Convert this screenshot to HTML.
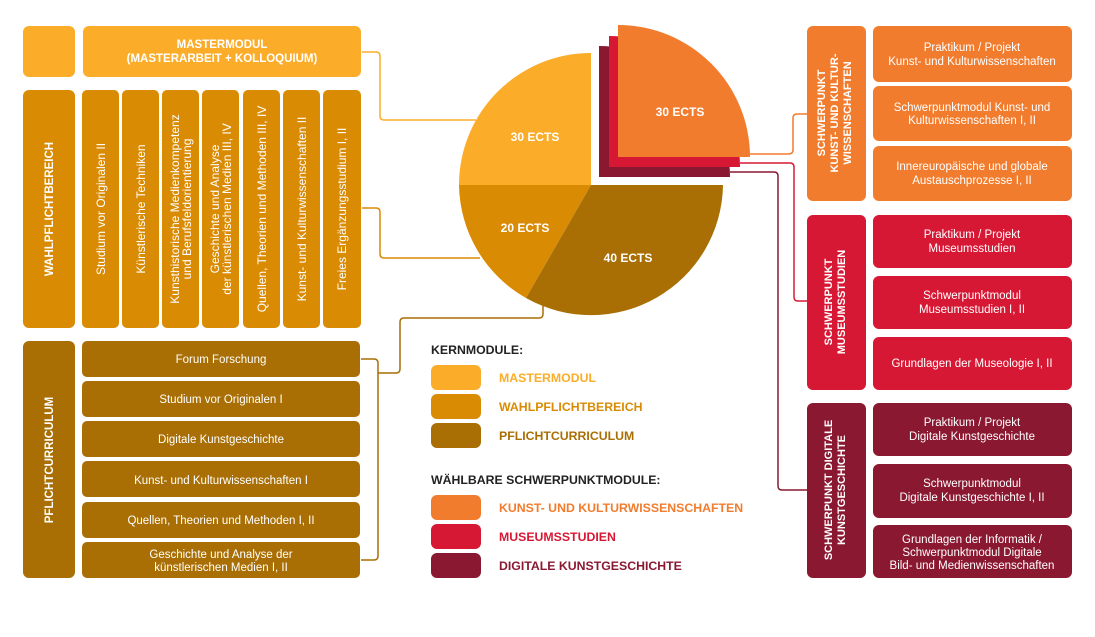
<!DOCTYPE html>
<html><head><meta charset="utf-8"><style>
html,body{margin:0;padding:0;background:#fff}
svg{display:block}
text{font-family:"Liberation Sans",sans-serif;font-weight:bold}
text.n{font-weight:normal}
</style></head><body>
<svg width="1095" height="637" viewBox="0 0 1095 637" xmlns="http://www.w3.org/2000/svg">
<g fill="none" stroke-width="1.5">
<path d="M362 52H376Q380 52 380 56V116Q380 120 384 120H476" stroke="#FBAD2A"/>
<path d="M362 208H376Q380 208 380 212V254Q380 258 384 258H480" stroke="#DA8B04"/>
<path d="M361 359H374Q378 359 378 363V556Q378 560 374 560H361M378 373H396Q400 373 400 369V322Q400 318 404 318H539Q543 318 543 314V305" stroke="#A96F04"/>
<path d="M750 154H788Q793 154 793 150V118Q793 114 797 114H808" stroke="#F27C2E"/>
<path d="M740 163H790Q794 163 794 167V297Q794 301 798 301H808" stroke="#D71834"/>
<path d="M730 172H774Q778 172 778 176V486Q778 490 782 490H808" stroke="#8A1831"/>
</g>
<path d="M599 177L599 46A131 131 0 0 1 730 177Z" fill="#8A1831"/>
<path d="M609 167L609 36A131 131 0 0 1 740 167Z" fill="#D71834"/>
<path d="M618 157L618 25A132 132 0 0 1 750 157Z" fill="#F27C2E"/>
<path d="M591 185L459 185A132 132 0 0 1 591 53Z" fill="#FBAD2A"/>
<path d="M591 185L526 298A132 132 0 0 1 459 185Z" fill="#DA8B04"/>
<path d="M591 185L723 185A132 132 0 0 1 526 298Z" fill="#A96F04"/>
<g fill="#fff" font-size="12" text-anchor="middle">
<text x="535" y="141">30 ECTS</text><text x="525" y="232">20 ECTS</text>
<text x="628" y="262">40 ECTS</text><text x="680" y="116">30 ECTS</text>
</g>
<!-- left -->
<rect x="23" y="26" width="52" height="51" rx="6" fill="#FBAD2A"/>
<rect x="83" y="26" width="278" height="51" rx="6" fill="#FBAD2A"/>
<g fill="#fff" font-size="11.5" text-anchor="middle"><text x="222" y="48">MASTERMODUL</text><text x="222" y="62">(MASTERARBEIT + KOLLOQUIUM)</text></g>
<g fill="#DA8B04">
<rect x="23" y="90" width="52" height="238" rx="6"/>
<rect x="82" y="90" width="37" height="238" rx="5"/><rect x="122" y="90" width="37" height="238" rx="5"/>
<rect x="162" y="90" width="37" height="238" rx="5"/><rect x="202" y="90" width="37" height="238" rx="5"/>
<rect x="243" y="90" width="37" height="238" rx="5"/><rect x="283" y="90" width="37" height="238" rx="5"/>
<rect x="323" y="90" width="38" height="238" rx="5"/>
</g>
<g fill="#fff" font-size="12" text-anchor="middle">
<text transform="translate(53,209) rotate(-90)" font-size="11.5">WAHLPFLICHTBEREICH</text>
<text class="n" transform="translate(105,209) rotate(-90)">Studium vor Originalen II</text>
<text class="n" transform="translate(145,209) rotate(-90)">Künstlerische Techniken</text>
<text class="n" transform="translate(179,209) rotate(-90)">Kunsthistorische Medienkompetenz</text>
<text class="n" transform="translate(191,209) rotate(-90)">und Berufsfeldorientierung</text>
<text class="n" transform="translate(219,209) rotate(-90)">Geschichte und Analyse</text>
<text class="n" transform="translate(231,209) rotate(-90)">der künstlerischen Medien III, IV</text>
<text class="n" transform="translate(266,209) rotate(-90)">Quellen, Theorien und Methoden III, IV</text>
<text class="n" transform="translate(306,209) rotate(-90)">Kunst- und Kulturwissenschaften II</text>
<text class="n" transform="translate(346,209) rotate(-90)">Freies Ergänzungsstudium I, II</text>
</g>
<g fill="#A96F04">
<rect x="23" y="341" width="52" height="237" rx="6"/>
<rect x="82" y="341" width="278" height="36" rx="5"/><rect x="82" y="381" width="278" height="36" rx="5"/>
<rect x="82" y="421" width="278" height="36" rx="5"/><rect x="82" y="461" width="278" height="36" rx="5"/>
<rect x="82" y="502" width="278" height="36" rx="5"/><rect x="82" y="542" width="278" height="36" rx="5"/>
</g>
<g fill="#fff" font-size="11.5" text-anchor="middle">
<text transform="translate(53,460) rotate(-90)">PFLICHTCURRICULUM</text>
<text class="n" x="221" y="363">Forum Forschung</text><text class="n" x="221" y="403">Studium vor Originalen I</text>
<text class="n" x="221" y="443">Digitale Kunstgeschichte</text><text class="n" x="221" y="484">Kunst- und Kulturwissenschaften I</text>
<text class="n" x="221" y="524">Quellen, Theorien und Methoden I, II</text>
<text class="n" x="221" y="558">Geschichte und Analyse der</text><text class="n" x="221" y="571">künstlerischen Medien I, II</text>
</g>
<!-- legend -->
<g font-size="12.3">
<text x="431" y="354" fill="#222">KERNMODULE:</text>
<rect x="431" y="365" width="50" height="25" rx="6" fill="#FBAD2A"/>
<rect x="431" y="394" width="50" height="25" rx="6" fill="#DA8B04"/>
<rect x="431" y="423" width="50" height="25" rx="6" fill="#A96F04"/>
<text x="499" y="382" fill="#FBAD2A">MASTERMODUL</text>
<text x="499" y="411" fill="#DA8B04">WAHLPFLICHTBEREICH</text>
<text x="499" y="440" fill="#A96F04">PFLICHTCURRICULUM</text>
<text x="431" y="484" fill="#222">WÄHLBARE SCHWERPUNKTMODULE:</text>
<rect x="431" y="495" width="50" height="25" rx="6" fill="#F27C2E"/>
<rect x="431" y="524" width="50" height="25" rx="6" fill="#D71834"/>
<rect x="431" y="553" width="50" height="25" rx="6" fill="#8A1831"/>
<text x="499" y="512" fill="#F27C2E">KUNST- UND KULTURWISSENSCHAFTEN</text>
<text x="499" y="541" fill="#D71834">MUSEUMSSTUDIEN</text>
<text x="499" y="570" fill="#8A1831">DIGITALE KUNSTGESCHICHTE</text>
</g>
<!-- right -->
<g fill="#F27C2E"><rect x="807" y="26" width="59" height="175" rx="6"/>
<rect x="873" y="26" width="199" height="56" rx="6"/><rect x="873" y="86" width="199" height="55" rx="6"/><rect x="873" y="146" width="199" height="55" rx="6"/></g>
<g fill="#D71834"><rect x="807" y="215" width="59" height="175" rx="6"/>
<rect x="873" y="215" width="199" height="53" rx="6"/><rect x="873" y="276" width="199" height="53" rx="6"/><rect x="873" y="337" width="199" height="53" rx="6"/></g>
<g fill="#8A1831"><rect x="807" y="403" width="59" height="175" rx="6"/>
<rect x="873" y="403" width="199" height="53" rx="6"/><rect x="873" y="464" width="199" height="54" rx="6"/><rect x="873" y="525" width="199" height="53" rx="6"/></g>
<g fill="#fff" font-size="11" text-anchor="middle">
<text transform="translate(825,113) rotate(-90)">SCHWERPUNKT</text>
<text transform="translate(838,113) rotate(-90)">KUNST- UND KULTUR-</text>
<text transform="translate(851,113) rotate(-90)">WISSENSCHAFTEN</text>
<text transform="translate(832,302) rotate(-90)">SCHWERPUNKT</text>
<text transform="translate(845,302) rotate(-90)">MUSEUMSSTUDIEN</text>
<text transform="translate(832,490) rotate(-90)">SCHWERPUNKT DIGITALE</text>
<text transform="translate(845,490) rotate(-90)">KUNSTGESCHICHTE</text>
</g>
<g fill="#fff" font-size="11.5" text-anchor="middle">
<text class="n" x="972" y="51">Praktikum / Projekt</text><text class="n" x="972" y="65">Kunst- und Kulturwissenschaften</text>
<text class="n" x="972" y="111">Schwerpunktmodul Kunst- und</text><text class="n" x="972" y="124">Kulturwissenschaften I, II</text>
<text class="n" x="972" y="170">Innereuropäische und globale</text><text class="n" x="972" y="184">Austauschprozesse I, II</text>
<text class="n" x="972" y="238">Praktikum / Projekt</text><text class="n" x="972" y="252">Museumsstudien</text>
<text class="n" x="972" y="299">Schwerpunktmodul</text><text class="n" x="972" y="313">Museumsstudien I, II</text>
<text class="n" x="972" y="367">Grundlagen der Museologie I, II</text>
<text class="n" x="972" y="426">Praktikum / Projekt</text><text class="n" x="972" y="440">Digitale Kunstgeschichte</text>
<text class="n" x="972" y="487">Schwerpunktmodul</text><text class="n" x="972" y="501">Digitale Kunstgeschichte I, II</text>
<text class="n" x="972" y="543">Grundlagen der Informatik /</text><text class="n" x="972" y="556">Schwerpunktmodul Digitale</text><text class="n" x="972" y="569">Bild- und Medienwissenschaften</text>
</g>
</svg>
</body></html>
